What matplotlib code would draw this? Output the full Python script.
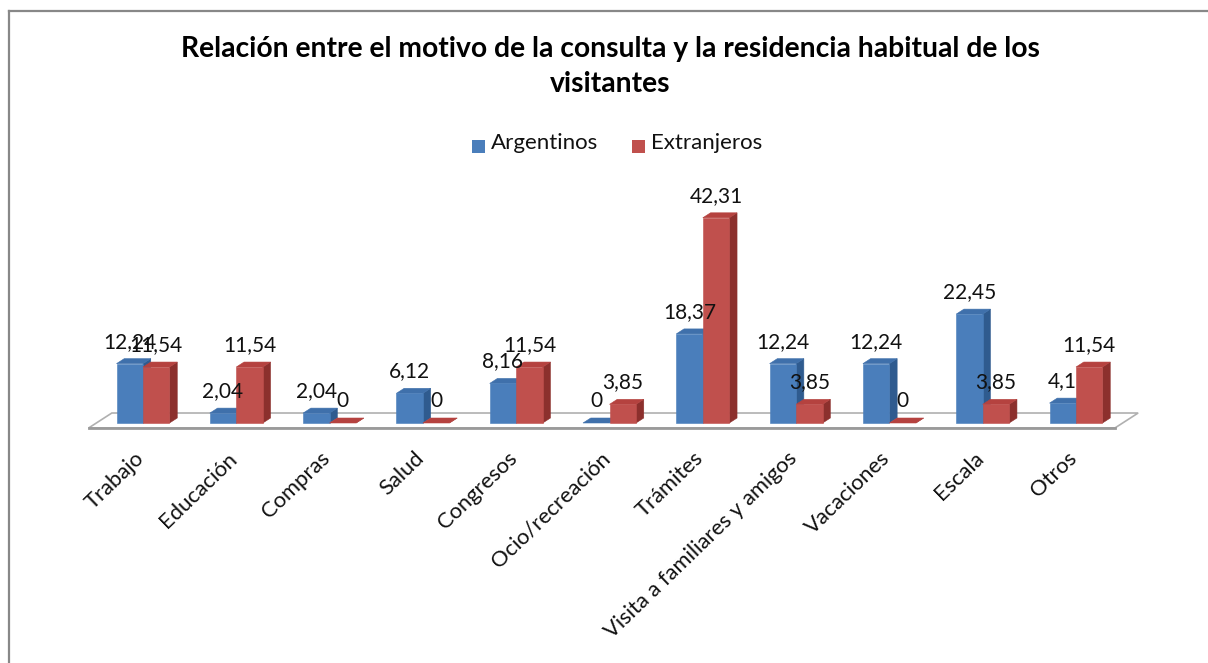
import matplotlib
matplotlib.use("Agg")
import matplotlib.pyplot as plt
from matplotlib.lines import Line2D
from matplotlib.patches import Rectangle

# ---------------- data ----------------
categories = ["Trabajo", "Educación", "Compras", "Salud", "Congresos",
              "Ocio/recreación", "Trámites", "Visita a familiares y amigos",
              "Vacaciones", "Escala", "Otros"]
argentinos = [12.24, 2.04, 2.04, 6.12, 8.16, 0, 18.37, 12.24, 12.24, 22.45, 4.1]
extranjeros = [11.54, 11.54, 0, 0, 11.54, 3.85, 42.31, 3.85, 0, 3.85, 11.54]
series_names = ["Argentinos", "Extranjeros"]
title = "Relación entre el motivo de la consulta y la residencia habitual de los\nvisitantes"

# ---------------- style ----------------
W, H = 1208, 663
FONT = "Lato"
blue = dict(front="#4A7EBB", side="#2F5B8F", top="#3F70AB")
red = dict(front="#C0504D", side="#8C302D", top="#B5423F")
BAR_W = 0.284          # width of one bar in category units
DDX, DDY = 0.083, 1.03  # 3-D depth vector (x in category units, y in value units)

fig = plt.figure(figsize=(W / 100, H / 100), dpi=100)
fig.patch.set_facecolor("white")
ax = fig.add_axes([0, 0, 1, 1])
# pixel mapping: category i boundary at x=143+93.3*i, zero line at y=423, 4.85 px / unit
ax.set_xlim((0 - 143) / 93.3, (W - 143) / 93.3)
ax.set_ylim((423 - H) / 4.85, 423 / 4.85)
ax.axis("off")

n = len(categories)

# floor
fx0, fx1 = -0.5, n - 0.5
floor = [(fx0 - DDX, -DDY), (fx1 - DDX, -DDY), (fx1 + 2 * DDX, 2 * DDY), (fx0 + 2 * DDX, 2 * DDY)]
ax.fill([p[0] for p in floor], [p[1] for p in floor], facecolor="white",
        edgecolor="#B0B0B0", linewidth=1.2, zorder=1)
ax.plot([fx0 - DDX, fx1 - DDX], [-DDY, -DDY], color="#9A9A9A", linewidth=2.0, zorder=1.1)


def bar3d(x0, h, c, z):
    x1 = x0 + BAR_W
    # side face
    ax.fill([x1, x1 + DDX, x1 + DDX, x1], [0, DDY, h + DDY, h],
            facecolor=c["side"], edgecolor=c["side"], linewidth=0.4, zorder=z)
    # top face
    ax.fill([x0, x1, x1 + DDX, x0 + DDX], [h, h, h + DDY, h + DDY],
            facecolor=c["top"], edgecolor=c["top"], linewidth=0.4, zorder=z)
    # front face
    if h > 0:
        ax.fill([x0, x1, x1, x0], [0, 0, h, h],
                facecolor=c["front"], edgecolor=c["front"], linewidth=0.4, zorder=z)


def fmt(v):
    return f"{v:g}".replace(".", ",")


for i in range(n):
    bar3d(i - BAR_W, argentinos[i], blue, 2 + i * 0.01)
    bar3d(i, extranjeros[i], red, 2.005 + i * 0.01)

for i in range(n):
    for x0, vals in ((i - BAR_W, argentinos), (i, extranjeros)):
        ax.annotate(fmt(vals[i]), (x0 + BAR_W / 2, vals[i]), xytext=(0, 22),
                    textcoords="offset pixels", ha="center", va="center",
                    fontsize=15, family=FONT, color="#111111", zorder=5)

# category labels
for i, c in enumerate(categories):
    ax.text(i - 0.1, -5.2, c, rotation=44, rotation_mode="anchor", ha="right",
            va="top", fontsize=15.8, family=FONT, color="#111111")

# title
fig.text(610 / W, 1 - 36 / H, title, ha="center", va="top", fontsize=20.3,
         fontweight="bold", family=FONT, linespacing=1.45, color="black")

# legend
for sx, tx, c, name in ((472, 491, blue, series_names[0]), (632, 651, red, series_names[1])):
    fig.add_artist(Rectangle((sx / W, 1 - 153 / H), 13 / W, 13 / H,
                             transform=fig.transFigure, facecolor=c["front"], edgecolor="none"))
    fig.text(tx / W, 1 - 143 / H, name, ha="left", va="center", fontsize=16,
             family=FONT, color="#111111")

# chart-area border (left and top edges visible)
fig.add_artist(Line2D([8.5 / W, 8.5 / W], [0, 1 - 10.5 / H], transform=fig.transFigure,
                      color="#888888", linewidth=1.6))
fig.add_artist(Line2D([8.5 / W, 1], [1 - 10.5 / H, 1 - 10.5 / H], transform=fig.transFigure,
                      color="#888888", linewidth=1.6))

fig.savefig("out.png", dpi=100, facecolor="white")
